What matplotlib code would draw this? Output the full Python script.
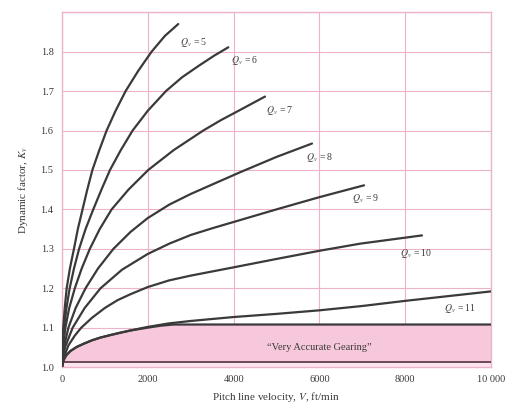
import matplotlib
matplotlib.use("Agg")
import matplotlib.pyplot as plt

plt.rcParams["font.family"] = "serif"
plt.rcParams["font.serif"] = ["Liberation Serif", "DejaVu Serif"]
plt.rcParams["mathtext.fontset"] = "stix"

# curves: pitch line velocity (ft/min) vs dynamic factor
qv5_v = [0, 10, 30, 65, 110, 185, 280, 370, 480, 590, 710, 870, 1041, 1250, 1484, 1770, 2090, 2400, 2711]
qv5_k = [1.0, 1.05, 1.1, 1.15, 1.2, 1.25, 1.3, 1.35, 1.4, 1.45, 1.5, 1.55, 1.6, 1.65, 1.7, 1.75, 1.8, 1.84, 1.87]
qv6_v = [0, 15, 50, 105, 180, 280, 400, 550, 730, 920, 1120, 1370, 1647, 2000, 2424, 2800, 3200, 3550, 3877]
qv6_k = [1.0, 1.05, 1.1, 1.15, 1.2, 1.25, 1.3, 1.35, 1.4, 1.45, 1.5, 1.55, 1.6, 1.65, 1.7, 1.735, 1.765, 1.79, 1.811]
qv7_v = [0, 25, 80, 170, 300, 460, 650, 880, 1158, 1550, 2012, 2600, 3294, 3700, 4149, 4732]
qv7_k = [1.0, 1.05, 1.1, 1.15, 1.2, 1.25, 1.3, 1.35, 1.4, 1.45, 1.5, 1.55, 1.6, 1.626, 1.652, 1.686]
qv8_v = [0, 45, 150, 320, 550, 840, 1200, 1600, 2000, 2500, 3000, 3500, 4149, 5000, 5828]
qv8_k = [1.0, 1.05, 1.1, 1.15, 1.2, 1.25, 1.3, 1.343, 1.378, 1.412, 1.439, 1.463, 1.494, 1.533, 1.567]
qv9_v = [0, 70, 250, 530, 900, 1400, 2000, 2500, 3000, 3500, 4000, 5000, 6000, 7040]
qv9_k = [1.0, 1.05, 1.1, 1.15, 1.2, 1.247, 1.287, 1.313, 1.335, 1.352, 1.368, 1.40, 1.431, 1.461]
qv10_v = [0, 30, 80, 150, 300, 450, 700, 1000, 1300, 1600, 2000, 2500, 3000, 4000, 5082, 6000, 6946, 8392]
qv10_k = [1.0, 1.022, 1.035, 1.055, 1.08, 1.1, 1.125, 1.15, 1.17, 1.185, 1.203, 1.22, 1.232, 1.253, 1.276, 1.295, 1.313, 1.334]
qv11_v = [0, 40, 100, 200, 342, 500, 700, 900, 1119, 1350, 1600, 2000, 2500, 3000, 4000, 5000, 6000, 7000, 8000, 9000, 10000]
qv11_k = [1.0, 1.018, 1.03, 1.041, 1.051, 1.059, 1.068, 1.075, 1.081, 1.087, 1.093, 1.102, 1.111, 1.117, 1.127,
          1.135, 1.144, 1.155, 1.168, 1.18, 1.192]
acc_v = [0, 40, 100, 200, 342, 500, 700, 900, 1119, 1350, 1600, 2000, 2300, 2600, 10000]
acc_k = [1.0, 1.018, 1.03, 1.041, 1.051, 1.059, 1.068, 1.075, 1.081, 1.087, 1.093, 1.100, 1.105, 1.108, 1.108]
acc_floor = 1.012

curves = [
    (qv5_v, qv5_k, "5", 2760, 1.823),
    (qv6_v, qv6_k, "6", 3930, 1.777),
    (qv7_v, qv7_k, "7", 4750, 1.651),
    (qv8_v, qv8_k, "8", 5680, 1.532),
    (qv9_v, qv9_k, "9", 6770, 1.428),
    (qv10_v, qv10_k, "10", 7890, 1.289),
    (qv11_v, qv11_k, "11", 8900, 1.149),
]

pink = "#f7c8dc"
grid_pink = "#eeb3cc"
ink = "#3a3a3a"

fig = plt.figure(figsize=(5.12, 4.07), dpi=100)
ax = fig.add_axes([0.121, 0.098, 0.838, 0.872])

ax.fill_between(acc_v, acc_floor, acc_k, color=pink, lw=0, zorder=1)
ax.fill_between([0, 10000], 1.0, acc_floor, color="#fbe4ee", lw=0, zorder=1)
ax.plot(acc_v, acc_k, color=ink, lw=1.6, zorder=3)
ax.plot([0, 10000], [acc_floor, acc_floor], color="#6b4a58", lw=1.4, zorder=3)

for v, k, q, tx, ty in curves:
    ax.plot(v, k, color=ink, lw=1.6, zorder=3, solid_capstyle="round")
    ax.text(tx, ty, "$Q_v$ = " + q, fontsize=7, color=ink, va="center", ha="left")

ax.text(6000, 1.051, "\u201cVery Accurate Gearing\u201d", fontsize=7.5, color=ink,
        ha="center", va="center")

ax.set_xlim(0, 10000)
ax.set_ylim(1.0, 1.9)
ax.set_xticks([0, 2000, 4000, 6000, 8000, 10000])
ax.set_xticklabels(["0", "2000", "4000", "6000", "8000", "10 000"])
ax.set_yticks([1.0, 1.1, 1.2, 1.3, 1.4, 1.5, 1.6, 1.7, 1.8, 1.9])
ax.set_yticklabels(["1.0", "1.1", "1.2", "1.3", "1.4", "1.5", "1.6", "1.7", "1.8", ""])
ax.tick_params(length=0, labelsize=7.5, labelcolor=ink, pad=6)
ax.grid(True, color=grid_pink, lw=0.8, zorder=0)
ax.set_axisbelow(True)
for s in ax.spines.values():
    s.set_color(grid_pink)
    s.set_linewidth(1.0)

ax.set_xlabel("Pitch line velocity, $V$, ft/min", fontsize=8, color=ink, labelpad=4)
ax.set_ylabel("Dynamic factor, $K_v$", fontsize=8, color=ink, labelpad=8)

fig.savefig("out.png", dpi=100)
